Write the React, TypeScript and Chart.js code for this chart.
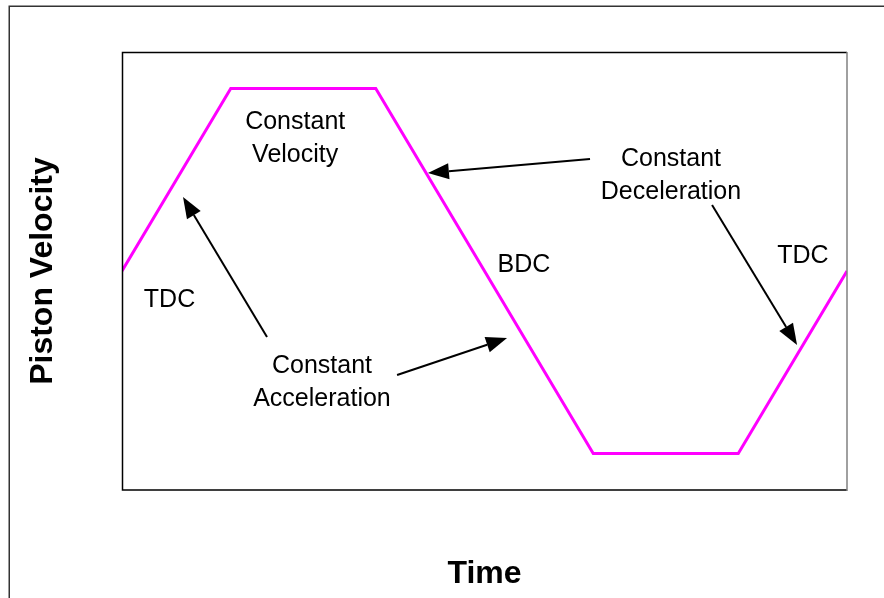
import React, { useEffect, useRef } from "react";
import { Chart, registerables } from "chart.js";

Chart.register(...registerables);

// Crank angle (deg) over one revolution and normalised piston velocity
const timeDeg = [0, 54, 126, 234, 306, 360];
const velocity = [0, 1, 1, -1, -1, 0];

const xTitle = "Time";
const yTitle = "Piston Velocity";

// Annotation texts (data coordinates of first line's centre/baseline)
const labelTexts = [
  ["Constant", "Velocity"],
  ["Constant", "Deceleration"],
  ["BDC"],
  ["TDC"],
  ["TDC"],
  ["Constant", "Acceleration"],
];
const labelX = [86, 272.6, 199.6, 23.6, 338.1, 99.3];
const labelY = [0.778, 0.575, -0.005, -0.197, 0.044, -0.559];

// Arrows: tail -> tip, data coordinates
const arrowFromX = [72.0, 136.6, 232.4, 293.0];
const arrowFromY = [-0.362, -0.57, 0.614, 0.362];
const arrowToX = [30.3, 191.2, 151.9, 335.2];
const arrowToY = [0.405, -0.367, 0.537, -0.405];

const FONT = '"Liberation Sans", Arial, Helvetica, sans-serif';

const decorPlugin = {
  id: "decor",
  afterDatasetsDraw(chart: any) {
    const { ctx, chartArea, scales } = chart;
    const xs = scales.x;
    const ys = scales.y;
    ctx.save();

    // outer frame
    ctx.strokeStyle = "#333333";
    ctx.lineWidth = 1.5;
    ctx.strokeRect(9.25, 6.25, 1000, 1000);

    // plot frame
    const { left, top, right, bottom } = chartArea;
    ctx.strokeStyle = "#000000";
    ctx.lineWidth = 1.5;
    ctx.beginPath();
    ctx.moveTo(right, top + 0.5);
    ctx.lineTo(left + 0.5, top + 0.5);
    ctx.lineTo(left + 0.5, bottom);
    ctx.lineTo(right, bottom);
    ctx.stroke();
    ctx.strokeStyle = "#808080";
    ctx.beginPath();
    ctx.moveTo(right, top);
    ctx.lineTo(right, bottom + 1);
    ctx.stroke();

    // annotation labels
    ctx.fillStyle = "#000000";
    ctx.font = `25px ${FONT}`;
    ctx.textAlign = "center";
    ctx.textBaseline = "alphabetic";
    labelTexts.forEach((lines, i) => {
      const px = xs.getPixelForValue(labelX[i]);
      const py = ys.getPixelForValue(labelY[i]);
      lines.forEach((t, j) => ctx.fillText(t, px, py + j * 32.5));
    });

    // arrows
    ctx.strokeStyle = "#000000";
    ctx.fillStyle = "#000000";
    ctx.lineWidth = 2;
    arrowFromX.forEach((fx, i) => {
      const x1 = xs.getPixelForValue(fx);
      const y1 = ys.getPixelForValue(arrowFromY[i]);
      const x2 = xs.getPixelForValue(arrowToX[i]);
      const y2 = ys.getPixelForValue(arrowToY[i]);
      const ang = Math.atan2(y2 - y1, x2 - x1);
      const headLen = 21;
      const headHalf = 8;
      const bx = x2 - headLen * Math.cos(ang);
      const by = y2 - headLen * Math.sin(ang);
      ctx.beginPath();
      ctx.moveTo(x1, y1);
      ctx.lineTo(bx, by);
      ctx.stroke();
      ctx.beginPath();
      ctx.moveTo(x2, y2);
      ctx.lineTo(bx + headHalf * Math.sin(ang), by - headHalf * Math.cos(ang));
      ctx.lineTo(bx - headHalf * Math.sin(ang), by + headHalf * Math.cos(ang));
      ctx.closePath();
      ctx.fill();
    });

    // axis titles
    ctx.font = `bold 32px ${FONT}`;
    ctx.textAlign = "center";
    ctx.textBaseline = "alphabetic";
    ctx.fillText(xTitle, (left + right) / 2 - 0, 583);
    ctx.save();
    ctx.translate(52, (top + bottom) / 2);
    ctx.rotate(-Math.PI / 2);
    ctx.fillText(yTitle, 0, 0);
    ctx.restore();

    ctx.restore();
  },
};

export default function App() {
  const canvasRef = useRef<HTMLCanvasElement | null>(null);

  useEffect(() => {
    if (!canvasRef.current) return;
    const chart = new Chart(canvasRef.current, {
      type: "line",
      data: {
        datasets: [
          {
            data: timeDeg.map((t, i) => ({ x: t, y: velocity[i] })),
            borderColor: "#FF00FF",
            borderWidth: 3,
            pointRadius: 0,
            tension: 0,
            fill: false,
          },
        ],
      },
      options: {
        animation: false,
        responsive: false,
        devicePixelRatio: 1,
        layout: { padding: { left: 122, top: 52, right: 37, bottom: 108 } },
        scales: {
          x: { type: "linear", min: 0, max: 360, display: false },
          y: { type: "linear", min: -1.2, max: 1.2, display: false },
        },
        plugins: { legend: { display: false }, tooltip: { enabled: false } },
      },
      plugins: [decorPlugin],
    });
    return () => chart.destroy();
  }, []);

  return (
    <div style={{ position: "absolute", left: 0, top: 0, width: 884, height: 598, background: "#fff" }}>
      <canvas ref={canvasRef} width={884} height={598} />
    </div>
  );
}
